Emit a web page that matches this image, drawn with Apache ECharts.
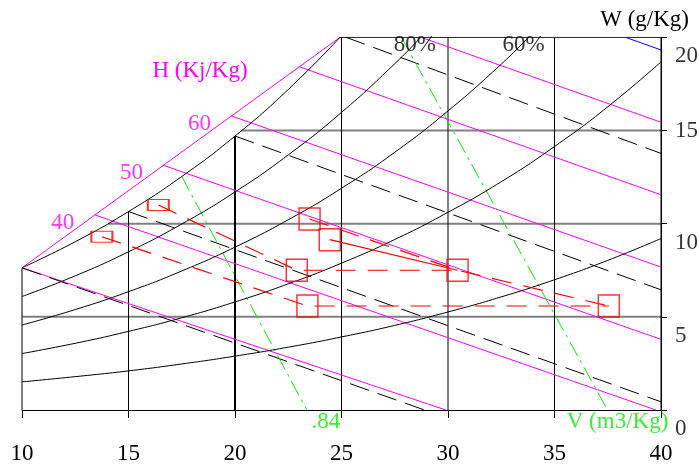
<!DOCTYPE html>
<html>
<head>
<meta charset="utf-8">
<script src="https://cdn.jsdelivr.net/npm/echarts@6/dist/echarts.min.js"></script>
<style>
html, body { margin: 0; padding: 0; background: #fff; }
#chart { width: 699px; height: 465px; }
</style>
</head>
<body>
<div id="chart"></div>
<script>
// axis ticks
var tempTicks = [10, 15, 20, 25, 30, 35, 40];
var humTicks = [0, 5, 10, 15, 20];

// relative humidity curves [T, W g/kg]
var rh100 = [[10, 7.63], [12.5, 9.03], [15, 10.65], [17.5, 12.53], [20, 14.70], [22.5, 17.20], [24.93, 20]];
var rh80 = [[10, 6.09], [12.5, 7.20], [15, 8.49], [17.5, 9.98], [20, 11.70], [22.5, 13.69], [25, 15.97], [27.5, 18.58], [28.72, 20]];
var rh60 = [[10, 4.56], [12.5, 5.39], [15, 6.35], [17.5, 7.46], [20, 8.74], [22.5, 10.21], [25, 11.90], [27.5, 13.83], [30, 16.05], [32.5, 18.56], [33.78, 20]];
var rh40 = [[10, 3.03], [12.5, 3.58], [15, 4.22], [17.5, 4.95], [20, 5.80], [22.5, 6.77], [25, 7.88], [27.5, 9.15], [30, 10.61], [32.5, 12.25], [35, 14.14], [37.5, 16.27], [40, 18.68]];
var rh20 = [[10, 1.51], [12.5, 1.79], [15, 2.10], [17.5, 2.47], [20, 2.89], [22.5, 3.37], [25, 3.92], [27.5, 4.54], [30, 5.26], [32.5, 6.07], [35, 6.99], [37.5, 8.03], [40, 9.20]];

// grid pieces clipped by the saturation curve
var vLines = [[[10, 0], [10, 7.63]], [[15, 0], [15, 10.65]], [[20, 0], [20, 14.70]], [[25, 0], [25, 20]], [[30, 0], [30, 20]], [[35, 0], [35, 20]], [[40, 0], [40, 20]]];
var hLines = [[[10, 5], [40, 5]], [[14.04, 10], [40, 10]], [[20.31, 15], [40, 15]]];
var topLine = [[24.93, 20], [40, 20]];

// enthalpy scale and lines
var hScale = [[10, 7.63], [24.93, 20]];
var hLinesData = [
  [[10, 7.63], [29.9, 0]],
  [[13.42, 10.47], [39.76, 0]],
  [[16.64, 13.13], [40, 3.79]],
  [[19.83, 15.78], [40, 7.67]],
  [[23.02, 18.42], [40, 11.55]],
  [[28.74, 20], [40, 15.44]]
];
var h90 = [[38.33, 20], [40, 19.32]];
var hLabels = [[13.42, 10.47, '40'], [16.64, 13.13, '50'], [19.83, 15.78, '60']];

// wet bulb lines
var wbLines = [
  [[10, 7.63], [28.9, 0]],
  [[15, 10.65], [40, 0.44]],
  [[20, 14.70], [40, 6.45]],
  [[25.21, 20], [40, 13.77]]
];

// specific volume lines
var v84 = [[17.5, 12.53], [23.37, 0]];
var v88 = [[27.81, 20], [37.49, 0]];

// process points
var p1 = [13.75, 9.3], p2 = [16.4, 11.0], p3a = [23.5, 10.25], p3b = [24.45, 9.14];
var p4 = [22.9, 7.5], p5 = [23.4, 5.58], p6 = [30.45, 7.5], p7 = [37.55, 5.58];
var pathA = [p1, p5, p7];
var pathB = [p2, p4, p6];
var pathC = [p3a, p6, p7];
var pathD = [p3b, p6];
var smallBoxes = [p1, p2];
var bigBoxes = [p3a, p3b, p4, p5, p6, p7];

var SERIF = 'Liberation Serif';
var FS = 23;
var chart = echarts.init(document.getElementById('chart'), null, { renderer: 'canvas' });

function line(data, color, width, type, smooth) {
  return {
    type: 'line', data: data, symbol: 'none', silent: true, smooth: smooth || false,
    lineStyle: { color: color, width: width, type: type || 'solid' }
  };
}

function textPoint(data, color, offset, align) {
  return {
    type: 'scatter', data: data, symbolSize: 1, silent: true,
    itemStyle: { color: 'transparent' },
    label: {
      show: true, position: 'inside', offset: offset, align: align || 'center',
      verticalAlign: 'middle', color: color, fontFamily: SERIF, fontSize: FS,
      formatter: function (p) { return p.value[2]; }
    },
    z: 10
  };
}

var series = [];
hLines.forEach(function (d) { series.push(line(d, '#808080', 2)); });
vLines.forEach(function (d, i) { series.push(line(d, '#000', tempTicks[i] == 20 ? 2 : 1)); });
series.push(line(topLine, '#000', 1));
hLinesData.forEach(function (d) { series.push(line(d, '#ff00ff', 1)); });
series.push(line(h90, '#0000ff', 1));
series.push(line(hScale, '#ff00ff', 1));
wbLines.forEach(function (d) { series.push(line(d, '#000', 1, [20, 9])); });
series.push(line(v84, '#00ee00', 1, [16, 5, 3, 5]));
series.push(line(v88, '#00ee00', 1, [16, 5, 3, 5]));
[rh100, rh80, rh60, rh40, rh20].forEach(function (d) { series.push(line(d, '#000', 1, 'solid', 0.5)); });
series.push(line(pathA, '#ff0000', 1.2, [20, 12]));
series.push(line(pathB, '#ff0000', 1.2, [20, 12]));
series.push(line(pathC, '#ff0000', 1.2, [20, 12]));
series.push(line(pathD, '#ff0000', 1.2));
series.push({
  type: 'scatter', data: smallBoxes, symbol: 'rect', symbolSize: [21, 11], silent: true,
  itemStyle: { color: 'transparent', borderColor: '#ff0000', borderWidth: 1.5 }, z: 5
});
series.push({
  type: 'scatter', data: bigBoxes, symbol: 'rect', symbolSize: [21, 22], silent: true,
  itemStyle: { color: 'transparent', borderColor: '#ff0000', borderWidth: 1.5 }, z: 5
});

// labels
series.push(textPoint(hLabels, '#ff00ff', [-32, 8]));
series.push(textPoint([[28.72, 20, '80%']], '#000', [-6, 8]));
series.push(textPoint([[33.78, 20, '60%']], '#000', [-5, 8]));
series.push(textPoint([[23.37, 0, '.84']], '#00ee00', [19, 12]));
series.push(textPoint([[37.49, 0, 'V (m3/Kg)']], '#00ee00', [10, 12]));
series.push(textPoint(humTicks.map(function (v) {
  return { value: [40, v, String(v)], label: { offset: [14, v == 15 ? 0 : 19] } };
}), '#000', [14, 19], 'left'));

var option = {
  animation: false,
  backgroundColor: '#fff',
  grid: { left: 22, right: 38, top: 37.3, bottom: 52.7 },
  xAxis: {
    type: 'value', min: 10, max: 40, interval: 5,
    axisLine: { show: true, onZero: false, lineStyle: { color: '#000', width: 1 } },
    axisTick: { show: true, length: 8, lineStyle: { color: '#000' } },
    axisLabel: { margin: 32, color: '#000', fontFamily: SERIF, fontSize: FS },
    splitLine: { show: false }
  },
  yAxis: {
    type: 'value', min: 0, max: 20, interval: 5, position: 'right',
    axisLine: { show: true, lineStyle: { color: '#000', width: 1 } },
    axisTick: { show: true, length: 6, lineStyle: { color: '#000' } },
    axisLabel: { show: false },
    splitLine: { show: false }
  },
  graphic: [
    { type: 'text', x: 200, y: 71, style: { text: 'H (Kj/Kg)', fill: '#ff00ff', font: FS + 'px "Liberation Serif"', textAlign: 'center', textVerticalAlign: 'middle' } },
    { type: 'text', x: 689, y: 20, style: { text: 'W (g/Kg)', fill: '#000', font: FS + 'px "Liberation Serif"', textAlign: 'right', textVerticalAlign: 'middle' } }
  ],
  series: series
};
chart.setOption(option);
</script>
</body>
</html>
